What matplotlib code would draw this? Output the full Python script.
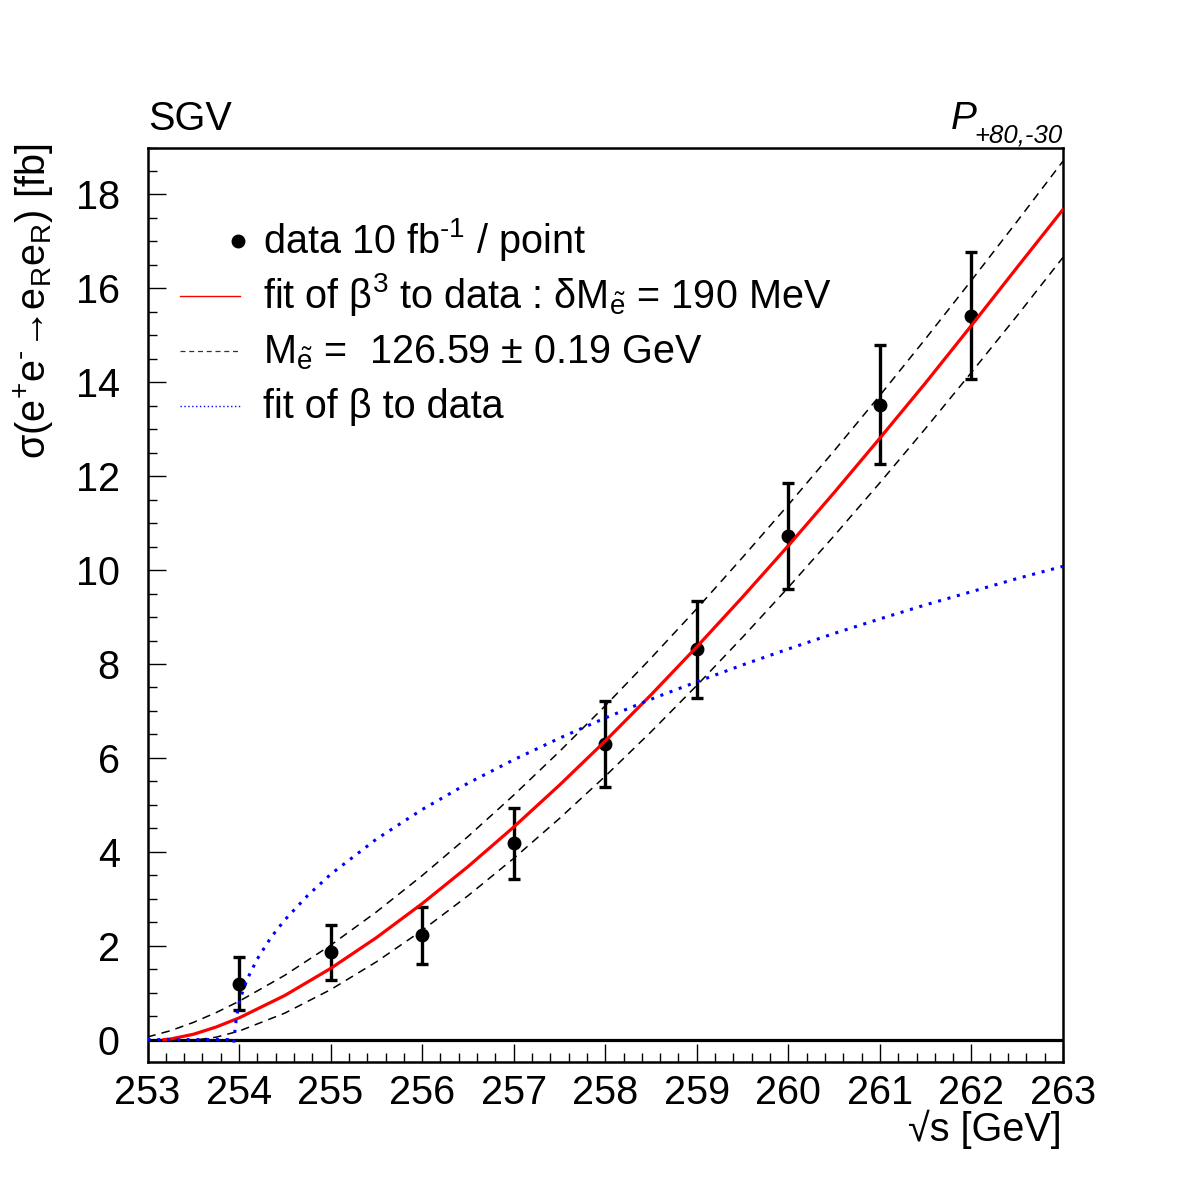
import matplotlib
matplotlib.use("Agg")
import matplotlib.pyplot as plt
from matplotlib.ticker import MultipleLocator

plt.rcParams['font.family'] = ['Liberation Sans', 'DejaVu Sans']
plt.rcParams['mathtext.fontset'] = 'custom'
plt.rcParams['mathtext.rm'] = 'Liberation Sans'
plt.rcParams['mathtext.it'] = 'Liberation Sans:italic'
plt.rcParams['mathtext.bf'] = 'Liberation Sans:bold'
plt.rcParams['mathtext.sf'] = 'Liberation Sans'
plt.rcParams['mathtext.fallback'] = 'stixsans'

# ---- data ----
data_x = [254, 255, 256, 257, 258, 259, 260, 261, 262]
data_y = [1.19, 1.86, 2.22, 4.18, 6.30, 8.31, 10.72, 13.52, 15.42]
data_err = [0.56, 0.58, 0.60, 0.75, 0.91, 1.04, 1.13, 1.27, 1.35]

# fit of beta^3 (red)
red_x = [253.18, 253.25, 253.5, 253.75, 254.0, 254.5, 255.0, 255.5, 256.0, 256.5,
         257.0, 257.5, 258.0, 258.5, 259.0, 259.5, 260.0, 260.5, 261.0, 261.5,
         262.0, 262.5, 263.0]
red_y = [0.0, 0.012, 0.113, 0.268, 0.462, 0.940, 1.515, 2.171, 2.896, 3.683,
         4.527, 5.420, 6.359, 7.343, 8.365, 9.426, 10.52, 11.65, 12.81, 13.99,
         15.21, 16.45, 17.68]

# mass +- error (black dashed)
up_x = [253.0, 253.25, 253.5, 253.75, 254.0, 254.5, 255.0, 255.5, 256.0, 256.5,
        257.0, 257.5, 258.0, 258.5, 259.0, 259.5, 260.0, 260.5, 261.0, 261.5,
        262.0, 262.5, 263.0]
up_y = [0.056, 0.189, 0.365, 0.576, 0.816, 1.370, 2.009, 2.719, 3.493, 4.324,
        5.206, 6.136, 7.110, 8.125, 9.177, 10.27, 11.39, 12.54, 13.72, 14.93,
        16.17, 17.43, 18.71]
lo_x = [253.56, 253.75, 254.0, 254.5, 255.0, 255.5, 256.0, 256.5, 257.0, 257.5,
        258.0, 258.5, 259.0, 259.5, 260.0, 260.5, 261.0, 261.5, 262.0, 262.5, 263.0]
lo_y = [0.0, 0.052, 0.181, 0.564, 1.064, 1.656, 2.326, 3.063, 3.859, 4.710,
        5.610, 6.555, 7.543, 8.569, 9.632, 10.73, 11.86, 13.02, 14.21, 15.42, 16.66]

# fit of beta (blue dotted)
blue_x = [253.0, 253.88, 253.94, 253.97, 254.0, 254.05, 254.1, 254.2, 254.35, 254.5,
          254.75, 255.0, 255.5, 256.0, 256.5, 257.0, 257.5, 258.0, 258.5, 259.0,
          259.5, 260.0, 260.5, 261.0, 261.5, 262.0, 262.5, 263.0]
blue_y = [0.0, 0.0, -0.08, 0.45, 0.77, 1.09, 1.33, 1.72, 2.18, 2.55,
          3.07, 3.52, 4.27, 4.90, 5.46, 5.96, 6.42, 6.85, 7.25, 7.62,
          7.98, 8.32, 8.65, 8.96, 9.26, 9.54, 9.82, 10.08]

legend_labels = [
    r'data 10 fb$^{\mathrm{‐1}}$ / point',
    r'fit of $\mathrm{\beta}^{\mathrm{3}}$ to data : $\mathrm{\delta M}_{\mathrm{\tilde{e}}}$ = 190 MeV',
    r'$\mathrm{M}_{\mathrm{\tilde{e}}}$ =  126.59 ± 0.19 GeV',
    'fit of β to data',
]

FS = 28.5

fig = plt.figure(figsize=(11.82, 11.82), dpi=100)
ax = fig.add_axes([147.5 / 1182, 120 / 1182, 915.5 / 1182, 914.5 / 1182])

ax.set_xlim(253, 263)
ax.set_ylim(-0.477, 19.0)

ax.axhline(0, color='black', lw=2.3, zorder=2)

ax.errorbar(data_x, data_y, yerr=data_err, fmt='o', color='black', ms=9,
            elinewidth=2.4, capsize=4.6, capthick=2.4, zorder=3)

dash = (0, (5.5, 4.0))
ax.plot(up_x, up_y, color='black', lw=1.1, linestyle=dash, zorder=4)
ax.plot(lo_x, lo_y, color='black', lw=1.1, linestyle=dash, zorder=4)
ax.plot(red_x, red_y, color='#ff0000', lw=2.3, zorder=5)
ax.plot(blue_x, blue_y, color='#0000ff', lw=2.2, linestyle=(0, (1.0, 2.2)), zorder=6)

# legend (manual, ROOT-like)
sample_rows = [0.8978, 0.8376, 0.7775, 0.7173]
text_rows = [0.8846, 0.8245, 0.7644, 0.7044]
x0, x1, xt = 0.035, 0.1007, 0.1258
ax.plot([0.0985], [sample_rows[0]], 'o', color='black', ms=9, transform=ax.transAxes, clip_on=False)
ax.plot([x0, x1], [sample_rows[1]] * 2, color='#ff0000', lw=1.0, transform=ax.transAxes)
ax.plot([x0, x1], [sample_rows[2]] * 2, color='#333333', lw=0.9, linestyle=(0, (4, 3)), transform=ax.transAxes)
ax.plot([x0, x1], [sample_rows[3]] * 2, color='#0000ff', lw=1.0, linestyle=(0, (1, 1.8)), transform=ax.transAxes)
for lab, yb in zip(legend_labels, text_rows):
    ax.text(xt, yb, lab, transform=ax.transAxes, fontsize=FS, va='baseline', ha='left')

# axes styling
for sp in ax.spines.values():
    sp.set_linewidth(1.8)
ax.xaxis.set_major_locator(MultipleLocator(1))
ax.xaxis.set_minor_locator(MultipleLocator(0.2))
ax.yaxis.set_major_locator(MultipleLocator(2))
ax.yaxis.set_minor_locator(MultipleLocator(0.5))
ax.tick_params(which='both', direction='in', top=False, right=False, width=1.0)
ax.tick_params(which='major', length=13)
ax.tick_params(which='minor', length=6.5)
ax.tick_params(axis='x', which='major', labelsize=FS, pad=9)
ax.tick_params(axis='y', which='major', labelsize=FS, pad=20)

fig.text(1062 / 1182, (1182 - 1141) / 1182, '√s [GeV]', fontsize=FS, ha='right', va='baseline')
fig.text(34 / 1182, (1182 - 144) / 1182,
         r'$\mathrm{\sigma(e^{+}e^{‐}}$→$\mathrm{e_{R}e_{R})}$ [fb]',
         fontsize=FS, rotation=90, ha='center', va='top')
fig.text(148 / 1182, (1182 - 129.5) / 1182, 'SGV', fontsize=FS, ha='left', va='baseline')
fig.text(1063 / 1182, (1182 - 142.5) / 1182, '+80,-30', fontsize=18.5, style='italic',
         ha='right', va='baseline')
fig.text(977 / 1182, (1182 - 129) / 1182, 'P', fontsize=28, style='italic',
         ha='right', va='baseline')

fig.savefig('out.png', dpi=100)
